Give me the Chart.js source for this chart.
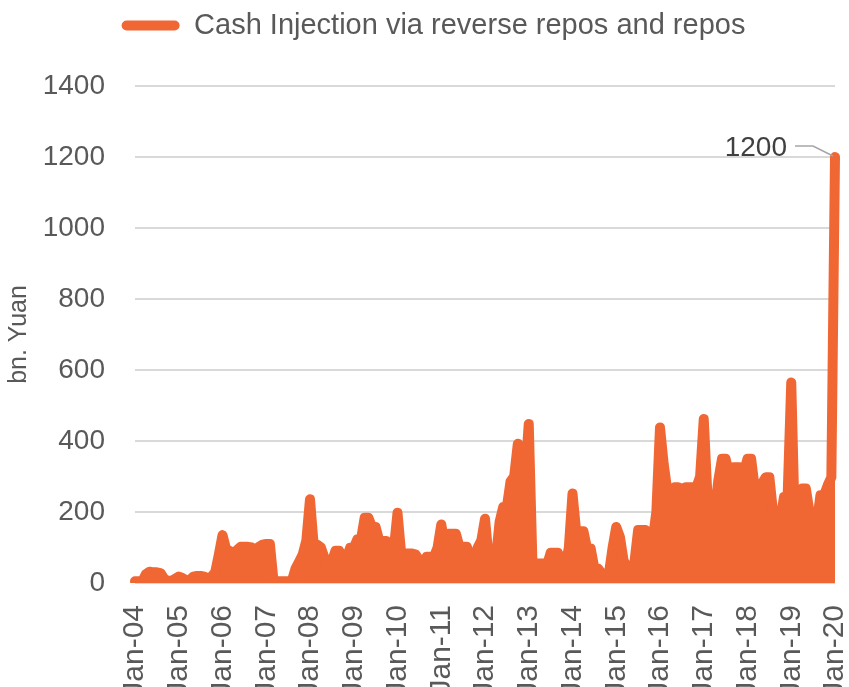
<!DOCTYPE html>
<html>
<head>
<meta charset="utf-8">
<script src="https://cdn.jsdelivr.net/npm/chart.js@4"></script>
<style>
  html, body { margin: 0; padding: 0; background: #fff; overflow: hidden; }
  #wrap { width: 849px; height: 687px; }
</style>
</head>
<body>
<div id="wrap"><canvas id="chart" width="849" height="687"></canvas></div>
<script>
// --- data: monthly readings, bn. Yuan ---
const months = ['Jan', 'Feb', 'Mar', 'Apr', 'May', 'Jun', 'Jul', 'Aug', 'Sep', 'Oct', 'Nov', 'Dec'];
const years = ['04', '05', '06', '07', '08', '09', '10', '11', '12', '13', '14', '15', '16', '17', '18', '19', '20'];

const v2004 = [5, 5, 5, 25, 32, 30, 30, 28, 12, 6, 6, 12];
const v2005 = [18, 14, 8, 8, 18, 20, 20, 18, 12, 18, 30, 80];
const v2006 = [135, 95, 90, 77, 93, 102, 102, 102, 100, 88, 102, 108];
const v2007 = [110, 110, 5, 5, 5, 5, 5, 5, 40, 60, 80, 120];
const v2008 = [236, 108, 108, 100, 70, 45, 60, 91, 91, 60, 70, 99];
const v2009 = [99, 123, 123, 184, 184, 158, 158, 118, 118, 118, 97, 95];
const v2010 = [198, 83, 83, 83, 83, 80, 64, 46, 74, 74, 74, 100];
const v2011 = [165, 107, 139, 139, 139, 102, 102, 102, 74, 56, 100, 120];
const v2012 = [181, 69, 69, 69, 172, 214, 214, 286, 300, 392, 270, 300];
const v2013 = [448, 60, 55, 55, 55, 50, 85, 85, 85, 60, 46, 100];
const v2014 = [252, 146, 146, 146, 97, 97, 41, 41, 27, 27, 27, 100];
const v2015 = [158, 130, 64, 41, 41, 60, 149, 149, 149, 116, 121, 200];
const v2016 = [438, 336, 261, 261, 270, 270, 265, 270, 270, 270, 270, 300];
const v2017 = [462, 247, 247, 200, 289, 350, 350, 303, 326, 326, 326, 312];
const v2018 = [350, 350, 266, 266, 280, 298, 298, 200, 200, 177, 242, 242];
const v2019 = [565, 153, 153, 266, 266, 200, 158, 168, 247, 247, 275, 298];
const v2020 = [1200];

const yTicks = [0, 200, 400, 600, 800, 1000, 1200, 1400];

const series = [v2004, v2005, v2006, v2007, v2008, v2009, v2010, v2011,
                v2012, v2013, v2014, v2015, v2016, v2017, v2018, v2019, v2020];

const labels = [];
const values = [];
series.forEach((arr, yi) => {
    arr.forEach((v, mi) => {
        labels.push(`${months[mi]}-${years[yi]}`);
        values.push(v);
    });
});

const ORANGE = '#f06734';
const TEXT = '#595959';
const FONT = "'Liberation Sans', Arial, sans-serif";

// --- 標註最後一點 (1200) ---
const peakLabel = {
    id: 'peakLabel',
    afterDatasetsDraw(chart) {
        const { ctx, scales: { x, y } } = chart;
        const i = values.length - 1;
        const px = x.getPixelForValue(i);
        const py = y.getPixelForValue(values[i]);
        ctx.save();
        ctx.strokeStyle = '#a6a6a6';
        ctx.lineWidth = 1.5;
        ctx.beginPath();
        ctx.moveTo(px - 40, py - 11);
        ctx.lineTo(px - 22, py - 11);
        ctx.lineTo(px - 2, py - 1);
        ctx.stroke();
        ctx.fillStyle = '#404040';
        ctx.font = `28px ${FONT}`;
        ctx.textAlign = 'right';
        ctx.textBaseline = 'middle';
        ctx.fillText(String(values[i]), px - 48, py - 9);
        ctx.restore();
    }
};

// 圖例：下方留白 + 略往右移
const legendTweak = {
    id: 'legendTweak',
    beforeInit(chart) {
        const legend = chart.legend;
        if (!legend) return;
        const fit = legend.fit;
        legend.fit = function () {
            fit.bind(legend)();
            this.height += 36;
        };
        const draw = legend.draw;
        legend.draw = function (...args) {
            chart.ctx.save();
            chart.ctx.translate(16, 0);
            draw.apply(legend, args);
            chart.ctx.restore();
        };
    }
};

new Chart(document.getElementById('chart'), {
    type: 'line',
    data: {
        labels: labels,
        datasets: [{
            label: 'Cash Injection via reverse repos and repos',
            data: values,
            borderColor: ORANGE,
            backgroundColor: ORANGE,
            borderWidth: 10,
            borderCapStyle: 'round',
            borderJoinStyle: 'round',
            fill: 'origin',
            tension: 0,
            pointRadius: 0
        }]
    },
    options: {
        responsive: false,
        animation: false,
        layout: { padding: { right: 14, top: 1 } },
        plugins: {
            tooltip: { enabled: false },
            legend: {
                position: 'top',
                labels: {
                    color: TEXT,
                    font: { family: FONT, size: 29 },
                    boxWidth: 58,
                    boxHeight: 10,
                    useBorderRadius: true,
                    borderRadius: 5,
                    padding: 10,
                    generateLabels: (chart) =>
                        Chart.defaults.plugins.legend.labels.generateLabels(chart)
                            .map(l => ({ ...l, lineWidth: 0 }))
                }
            }
        },
        scales: {
            x: {
                type: 'category',
                grid: { display: false },
                border: { display: false },
                ticks: {
                    autoSkip: false,
                    maxRotation: 90,
                    minRotation: 90,
                    padding: 14,
                    color: TEXT,
                    font: { family: FONT, size: 30 },
                    callback: (val, i) => labels[i].startsWith('Jan') ? labels[i] : null
                },
                afterFit: (scale) => {
                    scale.height = 104;
                    scale.paddingLeft = 0;
                    scale.paddingRight = 0;
                }
            },
            y: {
                min: 0,
                max: 1400,
                afterBuildTicks: (scale) => { scale.ticks = yTicks.map(v => ({ value: v })); },
                grid: { color: '#d9d9d9', lineWidth: 2, drawTicks: false },
                border: { display: false },
                ticks: {
                    padding: 30,
                    color: TEXT,
                    font: { family: FONT, size: 28 },
                    callback: (v) => String(v)
                },
                title: {
                    display: true,
                    text: 'bn. Yuan',
                    color: TEXT,
                    font: { family: FONT, size: 25 }
                },
                afterFit: (scale) => { scale.width = 135; }
            }
        }
    },
    plugins: [peakLabel, legendTweak]
});
</script>
</body>
</html>
